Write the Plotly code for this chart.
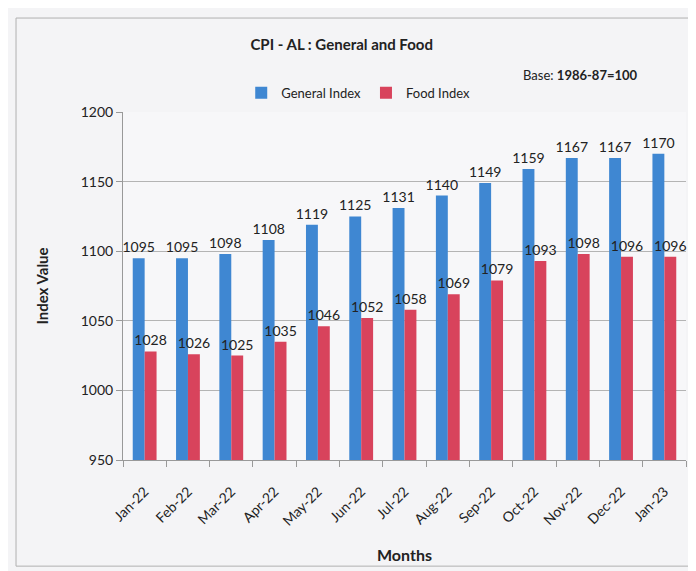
import plotly.graph_objects as go

months = ["Jan-22", "Feb-22", "Mar-22", "Apr-22", "May-22", "Jun-22", "Jul-22",
          "Aug-22", "Sep-22", "Oct-22", "Nov-22", "Dec-22", "Jan-23"]
general_index = [1095, 1095, 1098, 1108, 1119, 1125, 1131, 1140, 1149, 1159, 1167, 1167, 1170]
food_index = [1028, 1026, 1025, 1035, 1046, 1052, 1058, 1069, 1079, 1093, 1098, 1096, 1096]

FONT = "Lato, 'Open Sans', sans-serif"

fig = go.Figure()
fig.add_trace(go.Bar(x=months, y=general_index, name="General Index",
                     marker=dict(color="#3F87D2", line=dict(width=0)),
                     text=[str(v) for v in general_index], textposition="outside",
                     constraintext="none",
                     textfont=dict(size=14, color="#222222", family=FONT),
                     cliponaxis=False))
fig.add_trace(go.Bar(x=months, y=food_index, name="Food Index",
                     marker=dict(color="#D8435C", line=dict(width=0)),
                     text=[str(v) for v in food_index], textposition="outside",
                     constraintext="none",
                     textfont=dict(size=14, color="#222222", family=FONT),
                     cliponaxis=False))

# The page adds an 8px body margin, so the figure is sized and offset for it.
fig.update_layout(
    width=688, height=563,
    margin=dict(l=115, r=10, t=104, b=111),
    paper_bgcolor="#f4f4f6", plot_bgcolor="#f7f7f9",
    font=dict(family=FONT, color="#222222"),
    barmode="group", bargap=0.45, bargroupgap=0,
    title=dict(text="<b>CPI - AL : General and Food</b>", x=0.485, xanchor="center",
               y=1 - 37 / 563, yanchor="middle", font=dict(size=15, color="#222222")),
    legend=dict(orientation="h", x=0.21, xanchor="left", y=1.055, yanchor="middle",
                font=dict(size=13), bgcolor="rgba(0,0,0,0)", traceorder="normal",
                itemwidth=30),
    showlegend=True,
)
fig.update_yaxes(range=[950, 1200], dtick=50, showgrid=True, gridcolor="#b4b4b4",
                 gridwidth=1, showline=True, linecolor="#999999", ticks="outside",
                 ticklen=6, tickcolor="#999999", tickfont=dict(size=14),
                 title=dict(text="<b>Index Value</b>", font=dict(size=15), standoff=28),
                 zeroline=False)
fig.update_xaxes(showline=True, linecolor="#999999", ticks="outside", tickson="boundaries",
                 ticklen=6, tickcolor="#999999", tickangle=-45, tickfont=dict(size=14),
                 ticklabelstandoff=17,
                 title=dict(text="<b>Months</b>", font=dict(size=16), standoff=21))

fig.add_annotation(text="Base: <b>1986-87=100</b>", xref="paper", yref="paper",
                   x=0.918, xanchor="right", y=1.105, yanchor="middle",
                   showarrow=False, font=dict(size=13, color="#222222"))
fig.add_shape(type="rect", xref="paper", yref="paper", x0=-0.19, x1=1.012, y0=-0.305, y1=1.27,
              line=dict(color="#b0b0b0", width=1), fillcolor="rgba(0,0,0,0)", layer="below")

fig.write_html("out.html")
